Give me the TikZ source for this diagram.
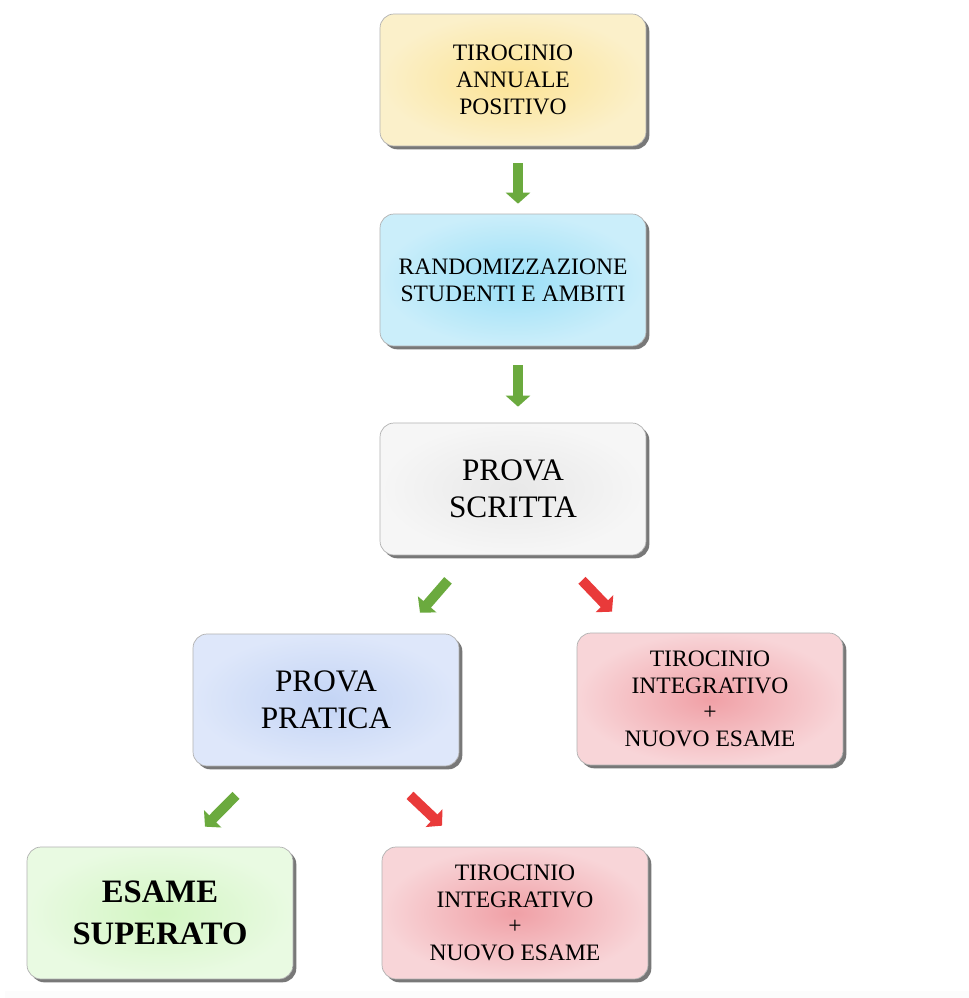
\documentclass[tikz,border=0pt]{standalone}
\usepackage{fontspec}
\setmainfont{Liberation Serif}
\usepackage{tikz}
\usetikzlibrary{arrows.meta}
\usetikzlibrary{shadows}
\definecolor{SoftYellow}{HTML}{FCE394}
\definecolor{PaleYellow}{HTML}{FBF0CA}
\definecolor{SkyBlue}{HTML}{9ADFF7}
\definecolor{PaleSky}{HTML}{CBEEFA}
\definecolor{SoftGray}{HTML}{E8E8E8}
\definecolor{PaleGray}{HTML}{F6F6F6}
\definecolor{Lavender}{HTML}{C3D4F5}
\definecolor{PaleLavender}{HTML}{DEE7FA}
\definecolor{SoftRed}{HTML}{F0A0A6}
\definecolor{PaleRed}{HTML}{F8D5D8}
\definecolor{SoftGreen}{HTML}{D3F6C3}
\definecolor{PaleGreen}{HTML}{E9FAE2}
\definecolor{OkGreen}{HTML}{6BAA3E}
\definecolor{KoRed}{HTML}{E93A3A}

\begin{document}
\begin{tikzpicture}[x=0.02cm,y=-0.02cm,
    box/.style={rectangle, rounded corners=0.28cm, minimum width=5.32cm,
      minimum height=2.64cm, align=center, draw=black!30, line width=0.4pt,
      drop shadow={shadow xshift=1.9pt, shadow yshift=-1.9pt, fill=black!70, opacity=0.75}},
    small/.style={font=\fontsize{13.4}{15.2}\selectfont},
    big/.style={font=\fontsize{17.8}{21}\selectfont},
    okarrow/.style={draw=OkGreen, line width=0.2cm, -{Triangle[length=0.22cm,width=0.48cm]}},
    koarrow/.style={draw=KoRed, line width=0.2cm, -{Triangle[length=0.22cm,width=0.48cm]}}]
    \useasboundingbox (0,0) rectangle (969,998);
    \fill[white] (0,0) rectangle (969,998);
    \fill[PaleGray!80!black!5] (5,991) rectangle (969,998);

    % boxes
    \node[box, small, inner color=SoftYellow, outer color=PaleYellow] (tiro) at (513,80)
      {TIROCINIO\\ANNUALE\\POSITIVO};
    \node[box, small, inner color=SkyBlue, outer color=PaleSky] (rand) at (513,280)
      {RANDOMIZZAZIONE\\STUDENTI E AMBITI};
    \node[box, big, inner color=SoftGray, outer color=PaleGray] (scritta) at (513,489)
      {PROVA\\SCRITTA};
    \node[box, big, inner color=Lavender, outer color=PaleLavender] (pratica) at (326,700)
      {PROVA\\PRATICA};
    \node[box, small, inner color=SoftRed, outer color=PaleRed] (integr1) at (710,699)
      {TIROCINIO\\INTEGRATIVO\\+\\NUOVO ESAME};
    \node[box, font=\fontsize{18.6}{24}\selectfont\bfseries, inner color=SoftGreen, outer color=PaleGreen] (esame) at (160,913)
      {ESAME\\SUPERATO};
    \node[box, small, inner color=SoftRed, outer color=PaleRed] (integr2) at (515,913)
      {TIROCINIO\\INTEGRATIVO\\+\\NUOVO ESAME};

    % arrows
    \draw[okarrow] ([shift={(5,17)}]tiro.south) -- ([shift={(5,-10)}]rand.north);
    \draw[okarrow] ([shift={(5,19)}]rand.south) -- ([shift={(5,-16)}]scritta.north);
    \draw[okarrow] ([shift={(-65,25)}]scritta.south) -- ([shift={(94,-21)}]pratica.north);
    \draw[koarrow] ([shift={(69,25)}]scritta.south) -- ([shift={(-98,-21)}]integr1.north);
    \draw[okarrow] ([shift={(-90,29)}]pratica.south) -- ([shift={(45,-20)}]esame.north);
    \draw[koarrow] ([shift={(84,29)}]pratica.south) -- ([shift={(-73,-21)}]integr2.north);
  \end{tikzpicture}
\end{document}
